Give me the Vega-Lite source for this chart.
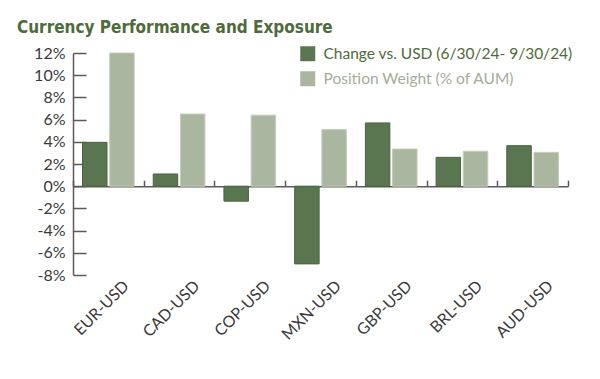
{
  "$schema": "https://vega.github.io/schema/vega-lite/v6.json",
  "width": 495,
  "height": 222,
  "autosize": {"type": "none"},
  "padding": {"left": 73, "top": 53, "right": 32, "bottom": 104},
  "background": "white",
  "config": {
    "view": {"stroke": null},
    "font": "Lato",
    "axis": {"labelFont": "Lato", "labelColor": "#3a3a3a", "labelFontSize": 15, "grid": false}
  },
  "title": {
    "text": "Currency Performance and Exposure",
    "font": "DejaVu Sans Condensed",
    "fontSize": 17,
    "fontWeight": "bold",
    "color": "#4e6b3b",
    "anchor": "start",
    "frame": "group",
    "dx": -56,
    "baseline": "alphabetic",
    "offset": 21,
    "dy": 26
  },
  "data": {
    "values": [
      {"currency": "EUR-USD", "series": "Change vs. USD (6/30/24- 9/30/24)", "value": 3.95},
      {"currency": "EUR-USD", "series": "Position Weight (% of AUM)", "value": 12.0},
      {"currency": "CAD-USD", "series": "Change vs. USD (6/30/24- 9/30/24)", "value": 1.1},
      {"currency": "CAD-USD", "series": "Position Weight (% of AUM)", "value": 6.5},
      {"currency": "COP-USD", "series": "Change vs. USD (6/30/24- 9/30/24)", "value": -1.35},
      {"currency": "COP-USD", "series": "Position Weight (% of AUM)", "value": 6.4},
      {"currency": "MXN-USD", "series": "Change vs. USD (6/30/24- 9/30/24)", "value": -7.0},
      {"currency": "MXN-USD", "series": "Position Weight (% of AUM)", "value": 5.1},
      {"currency": "GBP-USD", "series": "Change vs. USD (6/30/24- 9/30/24)", "value": 5.7},
      {"currency": "GBP-USD", "series": "Position Weight (% of AUM)", "value": 3.35},
      {"currency": "BRL-USD", "series": "Change vs. USD (6/30/24- 9/30/24)", "value": 2.6},
      {"currency": "BRL-USD", "series": "Position Weight (% of AUM)", "value": 3.15},
      {"currency": "AUD-USD", "series": "Change vs. USD (6/30/24- 9/30/24)", "value": 3.65},
      {"currency": "AUD-USD", "series": "Position Weight (% of AUM)", "value": 3.05}
    ]
  },
  "layer": [
    {
      "mark": {"type": "bar", "strokeWidth": 1},
      "encoding": {
        "x": {
          "field": "currency", "type": "nominal",
          "sort": ["EUR-USD", "CAD-USD", "COP-USD", "MXN-USD", "GBP-USD", "BRL-USD", "AUD-USD"],
          "scale": {"paddingInner": 0, "paddingOuter": 0},
          "axis": {"title": null, "domain": false, "ticks": false, "labelAngle": -45, "labelAlign": "right", "labelBaseline": "middle", "labelPadding": 8, "labelOffset": 18, "labelFontSize": 16}
        },
        "xOffset": {
          "field": "series", "type": "nominal",
          "sort": ["Change vs. USD (6/30/24- 9/30/24)", "Position Weight (% of AUM)"],
          "scale": {"paddingInner": 0.1, "paddingOuter": 0.35}
        },
        "y": {
          "field": "value", "type": "quantitative",
          "scale": {"domain": [-8, 12], "nice": false, "zero": false},
          "axis": {"title": null, "values": [-8, -6, -4, -2, 0, 2, 4, 6, 8, 10, 12], "labelExpr": "datum.value + '%'", "domainColor": "#5a5a5a", "domainWidth": 1.5, "tickColor": "#5a5a5a", "tickWidth": 1.5, "tickSize": -13, "labelPadding": 21, "labelFontSize": 16}
        },
        "color": {
          "field": "series", "type": "nominal",
          "scale": {"domain": ["Change vs. USD (6/30/24- 9/30/24)", "Position Weight (% of AUM)"], "range": ["#5a7650", "#abb6a0"]},
          "legend": {
            "title": null, "orient": "none", "legendX": 227, "legendY": -7,
            "symbolType": "square", "symbolSize": 225, "symbolStrokeWidth": 0,
            "labelFont": "Lato", "labelFontSize": 15.5, "labelOffset": 8, "rowPadding": 8,
            "labelLimit": 400,
            "encode": {"labels": {"update": {"fill": {"signal": "datum.value === 'Position Weight (% of AUM)' ? '#a3ae97' : '#4e6b3b'"}}}}
          }
        },
        "stroke": {
          "field": "series", "type": "nominal",
          "scale": {"domain": ["Change vs. USD (6/30/24- 9/30/24)", "Position Weight (% of AUM)"], "range": ["#49633f", "#c4ccb9"]},
          "legend": null
        }
      }
    },
    {
      "mark": {"type": "rule", "opacity": 0},
      "encoding": {
        "x": {
          "field": "currency", "type": "nominal",
          "sort": ["EUR-USD", "CAD-USD", "COP-USD", "MXN-USD", "GBP-USD", "BRL-USD", "AUD-USD"],
          "axis": {"title": null, "orient": "bottom", "offset": -88.8, "labels": false, "tickBand": "extent", "tickSize": -6, "tickColor": "#5a5a5a", "tickWidth": 1.5, "domainColor": "#5a5a5a", "domainWidth": 1.5}
        }
      }
    }
  ],
  "resolve": {"axis": {"x": "independent"}}
}
